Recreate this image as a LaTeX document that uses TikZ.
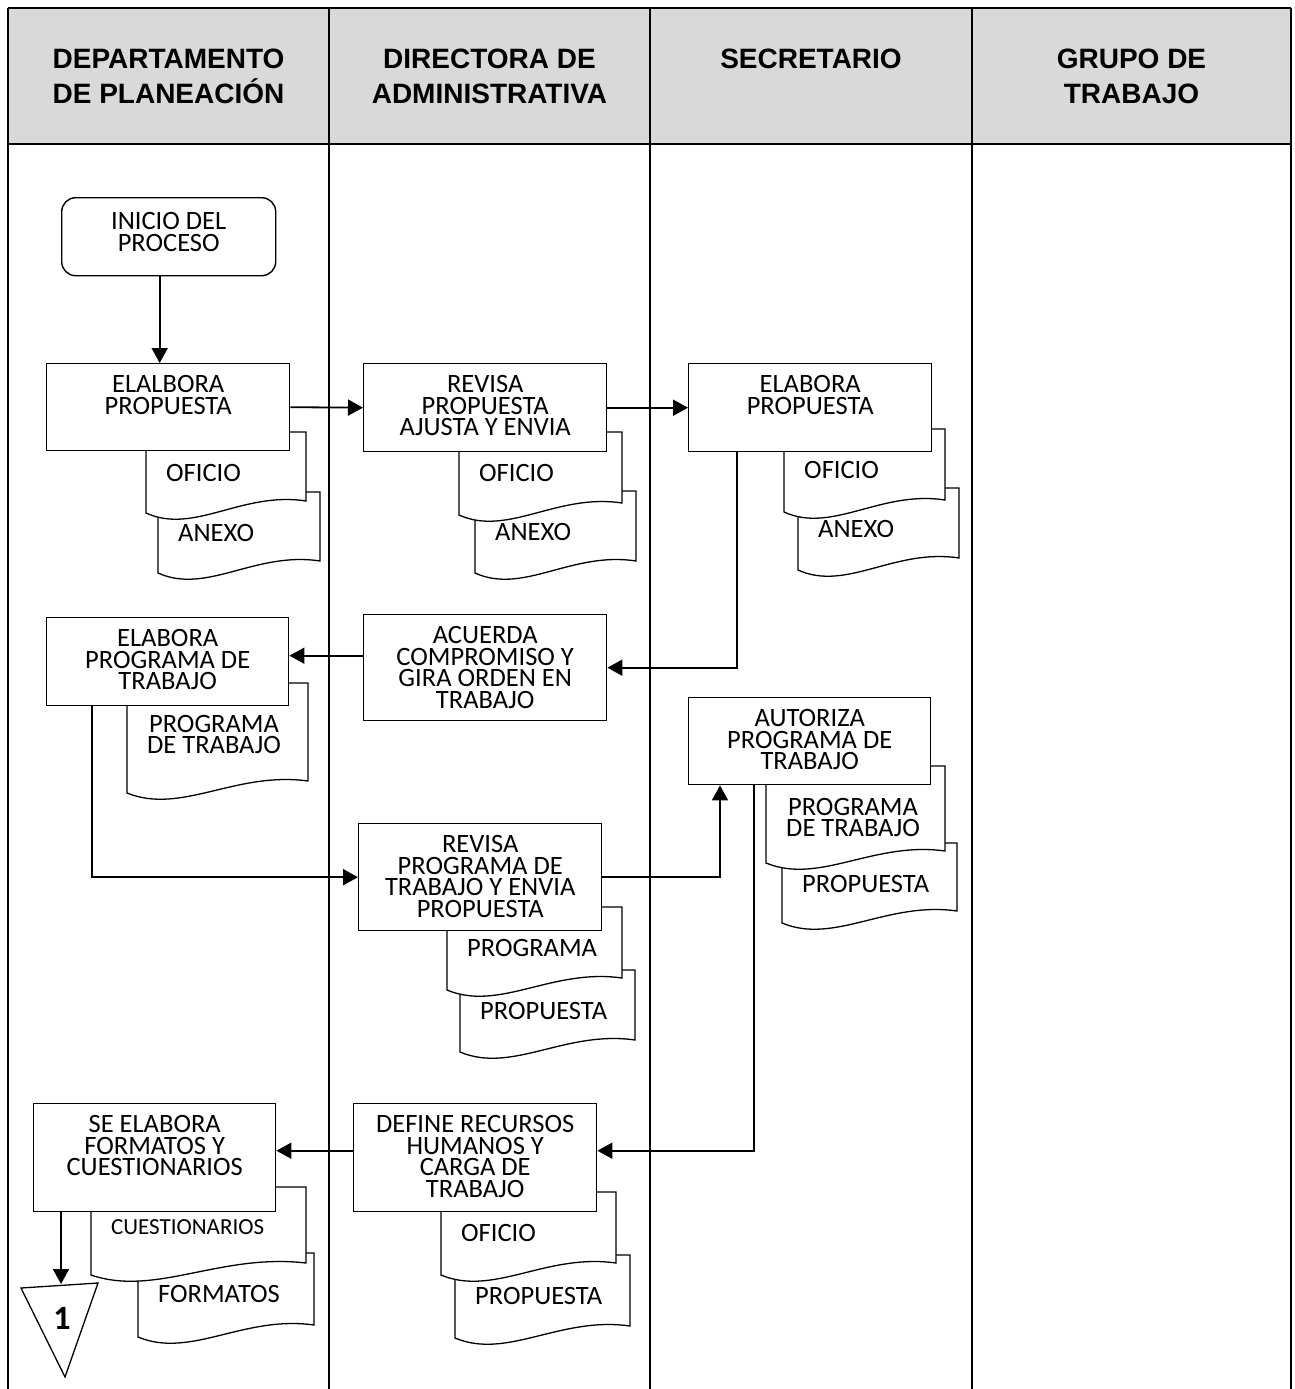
\documentclass[tikz,border=0pt]{standalone}
\usepackage{fontspec}
\setmainfont{Carlito}
\newfontfamily\headfont{Liberation Sans}
\usepackage{tikz}
\usetikzlibrary{arrows.meta, positioning, calc}
\usepackage{xcolor}
\definecolor{headgray}{HTML}{D9D9D9}

% text of a process box, set from the top
\newcommand{\boxtxt}[3]{\parbox[c][#2pt][t]{#1pt}{\centering\lineskiplimit=-100pt\vspace*{12pt}#3}}
% document shape: name, left, top, width, height, text
\newcommand{\docu}[6]{%
  \draw[docline] (#2,#3) -- ({#2+#4},#3) -- ({#2+#4},{#3+#5-12})
    .. controls ({#2+0.6*#4},{#3+#5-22}) and ({#2+0.3*#4},{#3+#5+22}) .. (#2,{#3+#5}) -- cycle;
  \node[doctext] (#1) at ({#2+20},{#3+32}) {#6};
}

\begin{document}
\begin{tikzpicture}[
    x=1pt, y=-1pt,
    lane/.style={line width=2.4pt},
    lanehead/.style={anchor=north, align=center, inner sep=0pt, font=\headfont\bfseries\fontsize{28}{35}\selectfont},
    proc/.style={draw, fill=white, line width=1.4pt, inner sep=0pt, anchor=north west, font=\fontsize{26.5}{21.5}\selectfont},
    docline/.style={draw, fill=white, line width=1.3pt},
    doctext/.style={anchor=north west, align=center, inner sep=0pt, font=\fontsize{26.5}{21.5}\selectfont},
    arrow/.style={-{Triangle[length=15pt, width=16pt]}, line width=1.8pt}
]
\useasboundingbox (0,0) rectangle (1294,1389);

% lanes
\fill[headgray] (8,8) rectangle (1291,144);
\draw[lane] (8,8) -- (1291,8);
\draw[lane] (8,144) -- (1291,144);
\draw[lane] (8,8) -- (8,1389);
\draw[lane] (329,8) -- (329,1389);
\draw[lane] (650,8) -- (650,1389);
\draw[lane] (972,8) -- (972,1389);
\draw[lane] (1291,8) -- (1291,1389);

\node[lanehead] (dep) at (168.5,49) {DEPARTAMENTO\\DE PLANEACIÓN};
\node[lanehead] (dir) at (489.5,49) {DIRECTORA DE\\ADMINISTRATIVA};
\node[lanehead] (sec) at (811,49) {SECRETARIO};
\node[lanehead] (grupo) at (1131.5,49) {GRUPO DE\\TRABAJO};

% documents
\docu{anexo1}{158}{492}{162}{81}{ANEXO}
\docu{oficio1}{146}{432}{160}{81}{OFICIO}
\docu{anexo2}{475}{491}{161}{82}{ANEXO}
\docu{oficio2}{459}{432}{163}{83}{OFICIO}
\docu{anexo3}{798}{488}{161}{82}{ANEXO}
\docu{oficio3}{784}{429}{161}{83}{OFICIO}
\docu{docprog1}{127}{683}{181}{110}{PROGRAMA\\DE TRABAJO}
\docu{propu3}{782}{843}{175}{80}{PROPUESTA}
\docu{docprog3}{766}{766}{179}{97}{PROGRAMA\\DE TRABAJO}
\docu{propu2}{460}{970}{175}{82}{PROPUESTA}
\docu{docprog2}{447}{907}{175}{83}{PROGRAMA}
\docu{propu4}{455}{1255}{175}{83}{PROPUESTA}
\docu{oficio4}{441}{1192}{175}{83}{OFICIO}
\docu{formdoc}{138}{1253}{176}{84}{FORMATOS}
\docu{cuestdoc}{91}{1187}{215}{88}{\fontsize{23}{21}\selectfont CUESTIONARIOS}

% process boxes
\node[proc, rounded corners=14pt] (inicio) at (61,197) {\boxtxt{214}{78}{\vspace*{3pt}INICIO DEL\\PROCESO}};
\node[proc] (prop1) at (46,363) {\boxtxt{243}{87}{ELALBORA\\PROPUESTA}};
\node[proc] (revisa1) at (363,363) {\boxtxt{243}{88}{REVISA\\PROPUESTA\\AJUSTA Y ENVIA}};
\node[proc] (prop3) at (688,363) {\boxtxt{243}{88}{ELABORA\\PROPUESTA}};
\node[proc] (acuerda) at (363,614) {\boxtxt{243}{106}{ACUERDA\\COMPROMISO Y\\GIRA ORDEN EN\\TRABAJO}};
\node[proc] (progr) at (46,617) {\boxtxt{242}{88}{ELABORA\\PROGRAMA DE\\TRABAJO}};
\node[proc] (autoriza) at (688,697) {\boxtxt{242}{87}{AUTORIZA\\PROGRAMA DE\\TRABAJO}};
\node[proc] (revisa2) at (358,823) {\boxtxt{243}{107}{REVISA\\PROGRAMA DE\\TRABAJO Y ENVIA\\PROPUESTA}};
\node[proc] (define) at (353,1103) {\boxtxt{243}{108}{DEFINE RECURSOS\\HUMANOS Y\\CARGA DE\\TRABAJO}};
\node[proc] (formatos) at (33,1103) {\boxtxt{242}{108}{SE ELABORA\\FORMATOS Y\\CUESTIONARIOS}};

% off-page connector
\draw[line width=1.3pt] (21,1288) -- (98,1283) -- (65,1377) -- cycle;
\coordinate (conn) at (61,1284);
\node[font=\bfseries\fontsize{34}{34}\selectfont] (uno) at (62,1318) {1};

% flow
\draw[arrow] ([xshift=-9pt]inicio.south) -- ([xshift=-9pt]inicio.south |- prop1.north);
\draw[arrow] (prop1.east) -- (revisa1.west);
\draw[arrow] (revisa1.east) -- (prop3.west);
\draw[arrow] ([xshift=49pt]prop3.south west) |- (acuerda.east);
\draw[arrow] ([yshift=12pt]acuerda.west) -- ([yshift=12pt]acuerda.west -| progr.east);
\draw[arrow] ([xshift=46pt]progr.south west) |- (revisa2.west);
\draw[arrow] (revisa2.east) -| ([xshift=32pt]autoriza.south west);
\draw[arrow] ([xshift=66pt]autoriza.south west) |- ([yshift=7pt]define.east);
\draw[arrow] ([yshift=7pt]define.west) -- ([yshift=7pt]define.west -| formatos.east);
\draw[arrow] ([xshift=28pt]formatos.south west) -- (conn);

\end{tikzpicture}
\end{document}
